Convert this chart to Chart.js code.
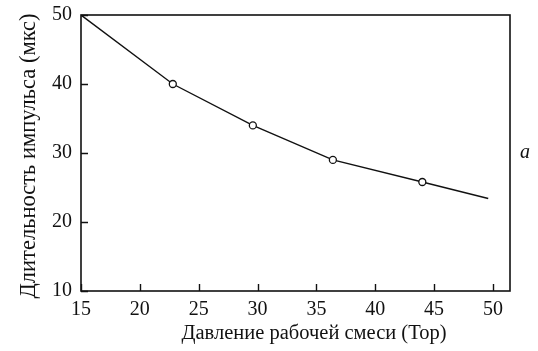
<!DOCTYPE html>
<html>
<head>
<meta charset="utf-8">
<script src="https://cdn.jsdelivr.net/npm/chart.js@4"></script>
<style>
  html, body { margin: 0; padding: 0; background: #fff; }
  #wrap { width: 538px; height: 351px; }
</style>
</head>
<body>
<div id="wrap"><canvas id="c"></canvas></div>
<script>
// Давление (Тор) / длительность импульса (мкс)
const pressure = [15, 22.8, 29.6, 36.4, 44.0, 49.6];
const duration = [50, 40, 34.0, 29.0, 25.8, 23.4];
const markerRadius = [0, 3.5, 3.5, 3.5, 3.5, 0];
const xTicks = [15, 20, 25, 30, 35, 40, 45, 50];
const yTicks = [10, 20, 30, 40, 50];
const xTitle = 'Давление рабочей смеси (Тор)';
const yTitle = 'Длительность импульса (мкс)';

const FONT = '"Liberation Serif", "DejaVu Serif", serif';

// рамка + внутренние засечки + подписи осей и "a"
const frame = {
  id: 'frame',
  afterDatasetsDraw(chart) {
    const { ctx, chartArea: a, scales } = chart;
    ctx.save();
    ctx.strokeStyle = '#111';
    ctx.lineWidth = 1.6;
    ctx.strokeRect(a.left, a.top, a.right - a.left, a.bottom - a.top);
    ctx.lineWidth = 1.4;
    ctx.beginPath();
    xTicks.forEach(v => {
      const x = Math.round(scales.x.getPixelForValue(v)) + 0.5;
      ctx.moveTo(x, a.bottom);
      ctx.lineTo(x, a.bottom - 7);
    });
    yTicks.forEach(v => {
      const y = Math.round(scales.y.getPixelForValue(v)) + 0.5;
      ctx.moveTo(a.left, y);
      ctx.lineTo(a.left + 7, y);
    });
    ctx.stroke();

    ctx.fillStyle = '#111';
    ctx.textAlign = 'center';
    ctx.textBaseline = 'middle';
    ctx.font = 'italic 20px ' + FONT;
    ctx.fillText('a', 525, scales.y.getPixelForValue(30));

    ctx.font = '20.5px ' + FONT;
    ctx.fillText(xTitle, 314, 334);

    ctx.translate(29, 156);
    ctx.rotate(-Math.PI / 2);
    ctx.font = '22.5px ' + FONT;
    ctx.fillText(yTitle, 0, 0);
    ctx.restore();
  }
};

new Chart(document.getElementById('c'), {
  type: 'line',
  data: {
    datasets: [{
      data: pressure.map((p, i) => ({ x: p, y: duration[i] })),
      borderColor: '#111',
      borderWidth: 1.4,
      pointRadius: markerRadius,
      pointBackgroundColor: '#fff',
      pointBorderColor: '#111',
      pointBorderWidth: 1.3,
      tension: 0,
    }],
  },
  options: {
    responsive: true,
    maintainAspectRatio: false,
    animation: false,
    events: [],
    layout: { padding: { top: 15, right: 28, left: 0, bottom: 0 } },
    plugins: { legend: { display: false }, tooltip: { enabled: false } },
    scales: {
      x: {
        type: 'linear',
        min: 15,
        max: 51.45,
        afterBuildTicks: s => { s.ticks = xTicks.map(v => ({ value: v })); },
        afterFit: s => { s.height = 60; s.paddingLeft = 0; s.paddingRight = 0; },
        grid: { drawOnChartArea: false, drawTicks: false },
        border: { display: false },
        ticks: { color: '#111', padding: 7, font: { family: FONT, size: 20 } },
      },
      y: {
        type: 'linear',
        min: 10,
        max: 50,
        afterBuildTicks: s => { s.ticks = yTicks.map(v => ({ value: v })); },
        afterFit: s => { s.width = 81; s.paddingTop = 0; s.paddingBottom = 0; },
        grid: { drawOnChartArea: false, drawTicks: false },
        border: { display: false },
        ticks: { color: '#111', padding: 9, font: { family: FONT, size: 20 } },
      },
    },
  },
  plugins: [frame],
});
</script>
</body>
</html>
